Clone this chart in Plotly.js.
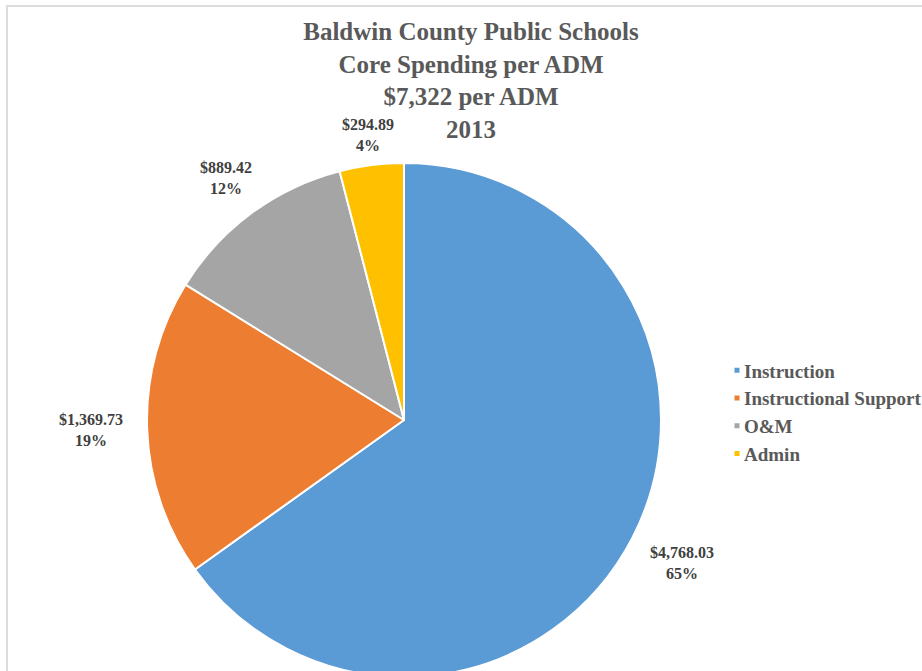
<!DOCTYPE html>
<html>
<head>
<meta charset="utf-8">
<script src="https://cdn.plot.ly/plotly-3.0.1.min.js"></script>
<style>
  html, body { margin: 0; padding: 0; overflow: hidden; background: #fff; }
  #chart { position: absolute; left: 0; top: 0; }
  #frame { position: absolute; left: 6px; top: 5px; width: 940px; height: 700px;
           border-top: 2px solid #dcdcdc; border-left: 2px solid #dcdcdc; pointer-events: none; }
</style>
</head>
<body>
<div id="chart"></div>
<div id="frame"></div>
<script>
// ---- data ----
const categories = ["Instruction", "Instructional Support", "O&M", "Admin"];
const values = [4768.03, 1369.73, 889.42, 294.89];
const colors = ["#5B9BD5", "#ED7D31", "#A5A5A5", "#FFC000"];
const titleLines = ["Baldwin County Public Schools", "Core Spending per ADM", "$7,322 per ADM", "2013"];

// ---- layout geometry ----
const W = 922, H = 700;
const cx = 404, cy = 420, R = 257;   // pie centre / radius in px (top-left origin)
const FONT = "Liberation Serif, Times New Roman, serif";
const TXT = "#404040";

const total = values.reduce((a, b) => a + b, 0);
const fmtMoney = v => "$" + v.toLocaleString("en-US", {minimumFractionDigits: 2, maximumFractionDigits: 2});

// data labels outside the slices, positioned from each slice's mid-angle
const annotations = [];
let acc = 0;
values.forEach((v, i) => {
  const frac = v / total;
  const mid = (acc + frac / 2) * 2 * Math.PI; // clockwise from 12 o'clock
  acc += frac;
  const dx = Math.sin(mid), dy = -Math.cos(mid);
  const money = fmtMoney(v);
  const hw = money.length * 4.3, hh = 10;
  const d = R + 17 + Math.abs(dx) * hw + Math.abs(dy) * hh;
  const px = cx + d * dx, py = cy + d * dy;
  annotations.push({
    xref: "paper", yref: "paper",
    x: px / W, y: 1 - py / H,
    xanchor: "center", yanchor: "middle",
    text: money + "<br>" + Math.round(frac * 100) + "%",
    showarrow: false,
    font: {family: FONT, size: 16, color: TXT, weight: "bold"}
  });
});

const trace = {
  type: "pie",
  labels: categories,
  values: values,
  sort: false,
  direction: "clockwise",
  rotation: 0,
  textinfo: "none",
  hoverinfo: "label+value+percent",
  marker: {colors: colors, line: {color: "#ffffff", width: 2}},
  domain: {x: [(cx - R) / W, (cx + R) / W], y: [1 - (cy + R) / H, 1 - (cy - R) / H]}
};

const layout = {
  width: W, height: H,
  margin: {l: 0, r: 0, t: 0, b: 0, autoexpand: false},
  paper_bgcolor: "#ffffff",
  title: {
    text: titleLines.join("<br>"),
    x: 471 / W, xanchor: "center",
    yref: "container", y: 1 - 40 / H, yanchor: "top",
    font: {family: FONT, size: 25, color: "#595959", weight: "bold"}
  },
  showlegend: true,
  legend: {
    x: 704 / W, xanchor: "left",
    y: 1 - 412 / H, yanchor: "middle",
    font: {family: FONT, size: 19, color: "#595959", weight: "bold"},
    bgcolor: "rgba(0,0,0,0)"
  },
  annotations: annotations
};

Plotly.newPlot("chart", [trace], layout, {displayModeBar: false, staticPlot: true}).then(gd => {
  // smaller legend swatches sitting closer to their text, as in the reference
  gd.querySelectorAll(".legend .legendpoints path").forEach(p => {
    p.setAttribute("d", "M3.5,3.5H-3.5V-3.5H3.5Z");
    p.setAttribute("transform", "translate(33,0)");
  });
});
</script>
</body>
</html>
